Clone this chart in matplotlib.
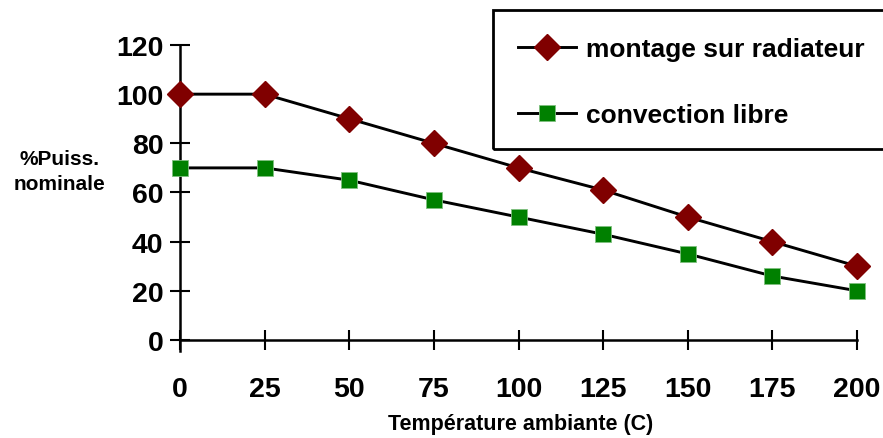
import matplotlib
matplotlib.use("Agg")
import matplotlib.pyplot as plt
from matplotlib.patches import Rectangle

temps = [0, 25, 50, 75, 100, 125, 150, 175, 200]
radiateur = [100, 100, 90, 80, 70, 61, 50, 40, 30]
convection = [70, 70, 65, 57, 50, 43, 35, 26, 20]
yticks = [0, 20, 40, 60, 80, 100, 120]
labels = ["montage sur radiateur", "convection libre"]

plt.rcParams['font.family'] = ['Liberation Sans', 'DejaVu Sans']
plt.rcParams['font.weight'] = 'bold'

W, H = 883, 439
fig = plt.figure(figsize=(W/100, H/100), dpi=100)
ax = fig.add_axes([180/W, (H-352)/H, (857-180)/W, (352-46)/H])

l1, = ax.plot(temps, radiateur, color='black', lw=2.1, marker='D', markersize=13,
              markerfacecolor='#800000', markeredgecolor='#800000', clip_on=False, zorder=3)
l2, = ax.plot(temps, convection, color='black', lw=2.1, marker='s', markersize=11,
              markerfacecolor='#008000', markeredgecolor='#7fc07f', markeredgewidth=0.6,
              clip_on=False, zorder=3)

ax.set_xlim(0, 200)
ax.set_ylim(-4.5, 120)
ax.set_xticks(temps)
ax.set_yticks(yticks)
ax.spines['top'].set_visible(False)
ax.spines['right'].set_visible(False)
ax.spines['bottom'].set_position(('data', 0))
for s in ('left', 'bottom'):
    ax.spines[s].set_linewidth(1.8)
ax.tick_params(axis='both', direction='inout', length=14, width=1.5, labelsize=20.5)
ax.tick_params(axis='x', pad=19)
ax.tick_params(axis='y', pad=5)
for t in ax.get_xticklabels() + ax.get_yticklabels():
    t.set_fontweight('bold')

fig.text(521/W, 1-425/H, "Température ambiante (C)", ha='center', va='center',
         fontsize=15.5, fontweight='bold')
fig.text(60/W, 1-172/H, "%Puiss.\nnominale", ha='center', va='center',
         fontsize=15, fontweight='bold', multialignment='center', linespacing=1.35)

rect = Rectangle((493/W, 1-150/H), 0.6, (150-11)/H, transform=fig.transFigure,
                 fill=False, edgecolor='black', linewidth=2, clip_on=False)
fig.add_artist(rect)
leg = fig.legend([l1, l2], labels, loc='upper left', bbox_to_anchor=(494/W, 1-14/H),
                 frameon=False, handlelength=2.2, handletextpad=0.38,
                 labelspacing=1.6, prop={'weight': 'bold', 'size': 19})

fig.savefig("out.png", dpi=100)
